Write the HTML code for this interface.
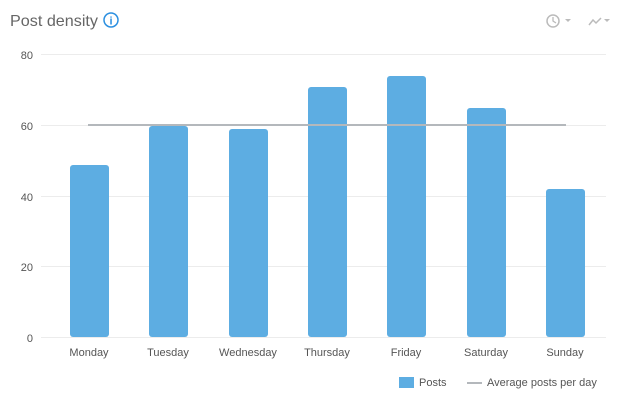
<!DOCTYPE html>
<html><head><style>
body{margin:0;background:#fff;width:625px;height:406px;overflow:hidden;font-family:"Liberation Sans",sans-serif}
</style></head><body>
<svg width="625" height="406" xmlns="http://www.w3.org/2000/svg" font-family="Liberation Sans, sans-serif">
<text x="10" y="26" font-size="16" fill="#666" textLength="88" lengthAdjust="spacingAndGlyphs">Post density</text>
<circle cx="111" cy="20" r="7" fill="none" stroke="#2b8fe0" stroke-width="1.5"/>
<text x="111" y="24.5" font-size="11" font-weight="bold" fill="#2b8fe0" text-anchor="middle">i</text>
<circle cx="553" cy="21" r="6" fill="none" stroke="#bbb" stroke-width="1.5"/>
<path d="M553 17v4l3 2" stroke="#bbb" fill="none" stroke-width="1.3"/>
<path d="M565 19l3 3 3-3z" fill="#bbb"/>
<path d="M589 25l4-5 3 3 5-5" stroke="#bbb" fill="none" stroke-width="1.5"/>
<path d="M604 19l3 3 3-3z" fill="#bbb"/>
<g stroke="#ececec" stroke-width="1">
<line x1="41" x2="606" y1="54.5" y2="54.5"/><line x1="41" x2="606" y1="125.5" y2="125.5"/>
<line x1="41" x2="606" y1="196.5" y2="196.5"/><line x1="41" x2="606" y1="266.5" y2="266.5"/>
<line x1="41" x2="606" y1="337.5" y2="337.5"/>
</g>
<g font-size="11" fill="#555" text-anchor="end">
<text x="33" y="59">80</text><text x="33" y="130">60</text><text x="33" y="201">40</text><text x="33" y="271">20</text><text x="33" y="342">0</text>
</g>
<g fill="#5dade2">
<rect x="70" y="165" width="39" height="172" rx="3"/>
<rect x="149" y="126" width="39" height="211" rx="3"/>
<rect x="229" y="129" width="39" height="208" rx="3"/>
<rect x="308" y="87" width="39" height="250" rx="3"/>
<rect x="387" y="76" width="39" height="261" rx="3"/>
<rect x="467" y="108" width="39" height="229" rx="3"/>
<rect x="546" y="189" width="39" height="148" rx="3"/>
</g>
<line x1="88" x2="566" y1="125" y2="125" stroke="#b4b8bc" stroke-width="2"/>
<g font-size="11" fill="#555" text-anchor="middle">
<text x="89" y="356">Monday</text><text x="168" y="356">Tuesday</text><text x="248" y="356">Wednesday</text>
<text x="327" y="356">Thursday</text><text x="406" y="356">Friday</text><text x="486" y="356">Saturday</text><text x="565" y="356">Sunday</text>
</g>
<rect x="399" y="377" width="15" height="11" fill="#5dade2"/>
<text x="419" y="386" font-size="11" fill="#555">Posts</text>
<line x1="467" x2="482" y1="383" y2="383" stroke="#b4b8bc" stroke-width="2"/>
<text x="487" y="386" font-size="11" fill="#555">Average posts per day</text>
</svg>
</body></html>
